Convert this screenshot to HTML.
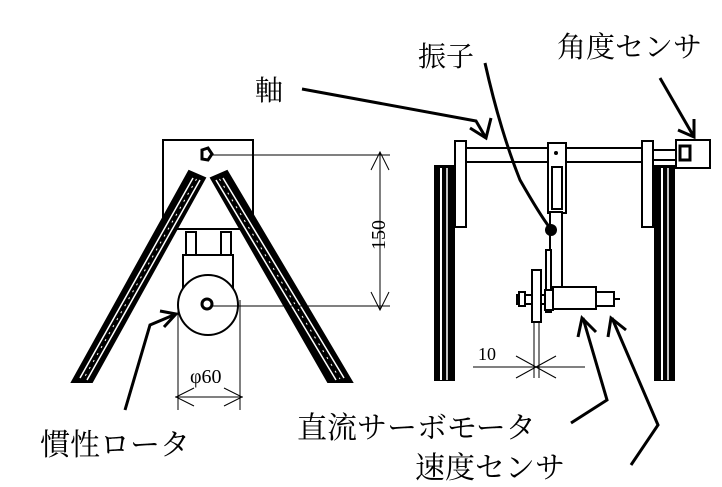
<!DOCTYPE html>
<html><head><meta charset="utf-8"><style>
html,body{margin:0;padding:0;background:#fff;width:722px;height:487px;overflow:hidden}
svg{display:block}
text{font-family:"Liberation Serif","Noto Serif CJK SC",serif;fill:#000}
</style></head><body>
<svg width="722" height="487" viewBox="0 0 722 487" xmlns="http://www.w3.org/2000/svg">
<!-- LEFT VIEW -->
<g stroke="#000" fill="none">
<rect x="163" y="140" width="90" height="89" stroke-width="2" fill="#fff"/>
<!-- legs -->
<polygon points="189,171 205,178 92,382 72,382" fill="#000" stroke="#000" stroke-width="2"/>
<polygon points="227,171 211,178 328,382 352,382" fill="#000" stroke="#000" stroke-width="2"/>
<g stroke="#fff" stroke-width="1.5">
<line x1="193" y1="178" x2="80" y2="378"/>
<line x1="200" y1="180" x2="87" y2="380"/>
<line x1="223" y1="178" x2="344" y2="378"/>
<line x1="216" y1="180" x2="336" y2="380"/>
</g>
<g stroke="#fff" stroke-width="1" stroke-dasharray="2 6">
<line x1="196.5" y1="179" x2="83.5" y2="379"/>
<line x1="219.5" y1="179" x2="340" y2="379"/>
</g>
<polygon points="202,150 208,148 212,154 208,160 202,159" stroke-width="3" fill="#fff"/>
<!-- bracket -->
<rect x="186" y="232" width="10" height="24" stroke-width="2"/>
<rect x="221" y="232" width="10" height="24" stroke-width="2"/>
<rect x="183" y="255" width="50" height="40" stroke-width="2" fill="#fff"/>
<circle cx="208" cy="305" r="30" stroke-width="2" fill="#fff"/>
<circle cx="207" cy="304" r="5" stroke-width="3"/>
<!-- dims -->
<g stroke-width="1">
<line x1="212" y1="155" x2="390" y2="155"/>
<line x1="212" y1="306" x2="390" y2="306"/>
<line x1="380" y1="152" x2="380" y2="310"/>
<polyline points="371,170 380,152 389,170"/>
<polyline points="371,292 380,310 389,292"/>
<line x1="178" y1="300" x2="178" y2="410"/>
<line x1="240" y1="300" x2="240" y2="410"/>
<line x1="175" y1="397" x2="243" y2="397"/>
<polyline points="194,388 176,397 194,406"/>
<polyline points="224,388 242,397 224,406"/>
</g>
</g>
<text x="0" y="0" font-size="20" transform="translate(385,250) rotate(-90)">150</text>
<text x="190" y="383" font-size="20">φ60</text>

<!-- RIGHT VIEW -->
<g stroke="#000" fill="#fff" stroke-width="2">
<rect x="435" y="166" width="19" height="214" fill="#000"/>
<line x1="441" y1="168" x2="441" y2="380" stroke="#fff" stroke-width="2"/>
<line x1="447" y1="168" x2="447" y2="380" stroke="#fff" stroke-width="1.5"/>
<rect x="655" y="166" width="19" height="214" fill="#000"/>
<line x1="662" y1="168" x2="662" y2="380" stroke="#fff" stroke-width="2"/>
<line x1="668" y1="168" x2="668" y2="380" stroke="#fff" stroke-width="1.5"/>
<rect x="455" y="141" width="11" height="86"/>
<rect x="642" y="141" width="11" height="86"/>
<rect x="466" y="148" width="176" height="14"/>
<rect x="653" y="150" width="24" height="10"/>
<rect x="676" y="140" width="34" height="28"/>
<rect x="680" y="146" width="10" height="14" stroke-width="3"/>
<rect x="548" y="143" width="18" height="70"/>
<rect x="552" y="167" width="10" height="42"/>
<rect x="550" y="212" width="12" height="96"/>
<rect x="546" y="250" width="5" height="62"/>
<circle cx="551" cy="230" r="6" fill="#000" stroke="none"/>
<rect x="517" y="295" width="28" height="9"/>
<rect x="519" y="292" width="6" height="14"/>
<rect x="532" y="270" width="9" height="52"/>
<rect x="545" y="290" width="8" height="20"/>
<rect x="553" y="287" width="43" height="22"/>
<rect x="596" y="292" width="18" height="14"/>
<line x1="614" y1="299" x2="620" y2="299"/>
</g>
<circle cx="556" cy="153" r="2" fill="#000"/>
<g stroke="#000" stroke-width="1">
<line x1="534" y1="322" x2="534" y2="378"/>
<line x1="539" y1="322" x2="539" y2="378"/>
<line x1="473" y1="367" x2="585" y2="367"/>
<line x1="516" y1="356" x2="556" y2="378"/>
<line x1="516" y1="378" x2="556" y2="356"/>
</g>
<text x="478" y="360" font-size="18">10</text>

<!-- LABELS & LEADERS -->
<g stroke="#000" stroke-width="3" fill="none">
<polyline points="302,89 476,121 486,138"/>
<polyline points="470,128 486,138 491,118"/>
<path d="M485,63 Q500,130 520,180 Q540,215 550,228"/>
<polyline points="660,78 694,137"/>
<polyline points="678,130 694,137 694,119"/>
<polyline points="125,410 150,325 176,314"/>
<polyline points="160,311 176,314 164,327"/>
<polyline points="571,423 607,400 583,318"/>
<polyline points="578,337 582,318 596,332"/>
<polyline points="631,465 658,425 612,318"/>
<polyline points="608,337 611,318 626,330"/>
</g>
<text x="255" y="100" font-size="28">軸</text>
<text x="418" y="66" font-size="28">振子</text>
<text x="557" y="57" font-size="29">角度センサ</text>
<text x="40" y="455" font-size="30">慣性ロータ</text>
<text x="297" y="438" font-size="30">直流サーボモータ</text>
<text x="415" y="478" font-size="30">速度センサ</text>
</svg>
</body></html>
